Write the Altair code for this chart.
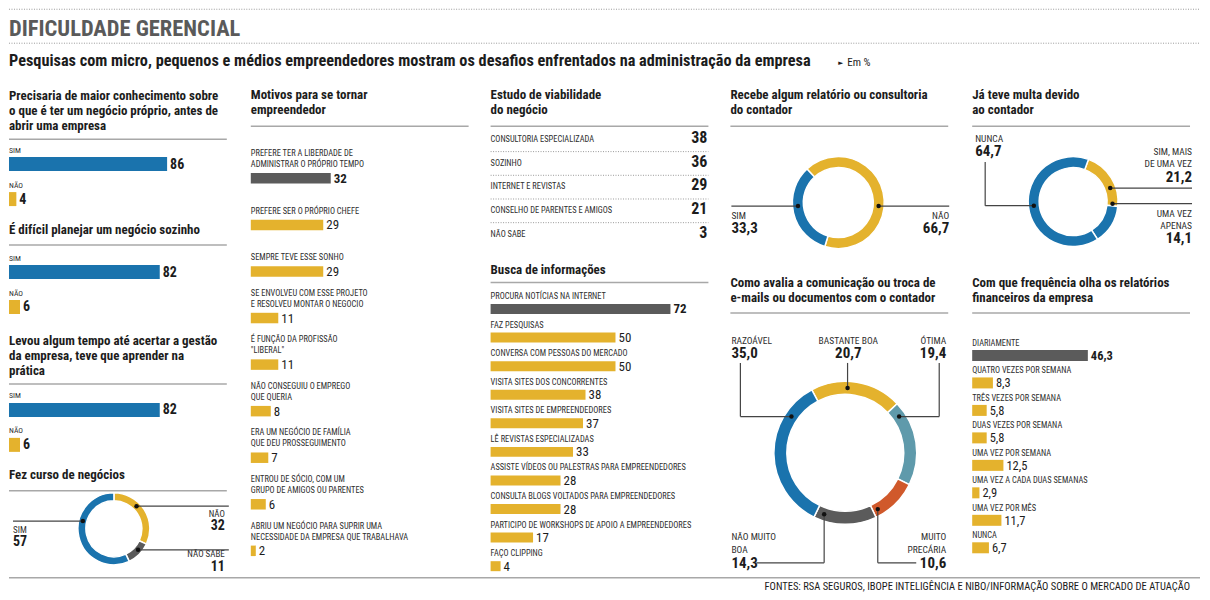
import math
import altair as alt
import pandas as pd

# ---------------- data ----------------
main_title = "DIFICULDADE GERENCIAL"
subtitle = ("Pesquisas com micro, pequenos e médios empreendedores mostram os desafios "
            "enfrentados na administração da empresa")
unit_note = "Em %"
source = "FONTES: RSA SEGUROS, IBOPE INTELIGÊNCIA E NIBO/INFORMAÇÃO SOBRE O MERCADO DE ATUAÇÃO"

yn_cats = ["SIM", "NÃO"]
q1_title = ["Precisaria de maior conhecimento sobre", "o que  é ter um negócio próprio, antes de", "abrir uma empresa"]
q1_vals = [86, 4]
q2_title = ["É difícil planejar um negócio sozinho"]
q2_vals = [82, 6]
q3_title = ["Levou algum tempo até acertar a gestão", "da empresa, teve que aprender na", "prática"]
q3_vals = [82, 6]
curso_title = ["Fez curso de negócios"]
curso_cats = ["NÃO", "NÃO SABE", "SIM"]
curso_vals = [32, 11, 57]

motivos_title = ["Motivos para se tornar", "empreendedor"]
motivos_labels = [
    ["PREFERE TER A LIBERDADE DE", "ADMINISTRAR O PRÓPRIO TEMPO"],
    ["PREFERE SER O PRÓPRIO CHEFE"],
    ["SEMPRE TEVE ESSE SONHO"],
    ["SE ENVOLVEU COM ESSE PROJETO", "E RESOLVEU MONTAR O NEGOCIO"],
    ["É FUNÇÃO DA PROFISSÃO", "\"LIBERAL\""],
    ["NÃO CONSEGUIU O EMPREGO", "QUE QUERIA"],
    ["ERA UM NEGÓCIO DE FAMÍLIA", "QUE DEU PROSSEGUIMENTO"],
    ["ENTROU DE SÓCIO, COM UM", "GRUPO DE AMIGOS OU PARENTES"],
    ["ABRIU UM NEGÓCIO PARA SUPRIR UMA", "NECESSIDADE DA EMPRESA QUE TRABALHAVA"],
]
motivos_vals = [32, 29, 29, 11, 11, 8, 7, 6, 2]

viab_title = ["Estudo de viabilidade", "do negócio"]
viab_labels = ["CONSULTORIA ESPECIALIZADA", "SOZINHO", "INTERNET E REVISTAS",
               "CONSELHO DE PARENTES E AMIGOS", "NÃO SABE"]
viab_vals = [38, 36, 29, 21, 3]

busca_title = ["Busca de informações"]
busca_labels = [["PROCURA NOTÍCIAS NA INTERNET"], ["FAZ PESQUISAS"], ["CONVERSA COM PESSOAS DO MERCADO"],
                ["VISITA SITES DOS CONCORRENTES"], ["VISITA SITES DE EMPREENDEDORES"],
                ["LÊ REVISTAS ESPECIALIZADAS"], ["ASSISTE VÍDEOS OU PALESTRAS PARA EMPREENDEDORES"],
                ["CONSULTA BLOGS VOLTADOS PARA EMPREENDEDORES"],
                ["PARTICIPO DE WORKSHOPS DE APOIO A EMPREENDEDORES"], ["FAÇO CLIPPING"]]
busca_vals = [72, 50, 50, 38, 37, 33, 28, 28, 17, 4]

relat_title = ["Recebe algum relatório ou consultoria", "do contador"]
relat_cats = ["NÃO", "SIM"]
relat_vals = [66.7, 33.3]

multa_title = ["Já teve multa devido", "ao contador"]
multa_cats = ["SIM, MAIS DE UMA VEZ", "UMA VEZ APENAS", "NUNCA"]
multa_vals = [21.2, 14.1, 64.7]

comun_title = ["Como avalia a comunicação ou troca de", "e-mails ou documentos com o contador"]
comun_cats = ["BASTANTE BOA", "ÓTIMA", "MUITO PRECÁRIA", "NÃO MUITO BOA", "RAZOÁVEL"]
comun_vals = [20.7, 19.4, 10.6, 14.3, 35.0]

freq_title = ["Com que frequência olha os relatórios", "financeiros da empresa"]
freq_labels = [["DIARIAMENTE"], ["QUATRO VEZES POR SEMANA"], ["TRÊS VEZES POR SEMANA"],
               ["DUAS VEZES POR SEMANA"], ["UMA VEZ POR SEMANA"], ["UMA VEZ A CADA DUAS SEMANAS"],
               ["UMA VEZ POR MÊS"], ["NUNCA"]]
freq_vals = [46.3, 8.3, 5.8, 5.8, 12.5, 2.9, 11.7, 6.7]

# ---------------- style ----------------
FONT = "'Liberation Sans Narrow', 'Arial Narrow', 'Roboto Condensed', 'DejaVu Sans Condensed', Roboto, sans-serif"
BLUE, YEL, GRAY, TEAL, ORNG = "#1a73ad", "#e4b22d", "#5b5b5b", "#5f9aab", "#d0592b"
INK, LAB, RULEC, LEAD = "#1c1c1c", "#2e2e2e", "#a8a8a8", "#444444"
CW = 221
LABSZ = 8.4
ONE = pd.DataFrame({"k": [0]})


def fmt_int(v):
    return str(int(v))


def fmt_dec(v):
    return f"{v:.1f}".replace(".", ",")


def txt(s, x, y, size, weight="normal", color=INK, align="left"):
    return alt.Chart(ONE).mark_text(text=s, font=FONT, fontSize=size, fontWeight=weight, color=color,
                                    align=align, baseline="alphabetic").encode(x=alt.value(x), y=alt.value(y))


def stack_text(ls, x, y0, lh, size, **kw):
    return [txt(s, x, y0 + i * lh, size, **kw) for i, s in enumerate(ls)]


def rule(x1, x2, y1, y2, color=RULEC, w=1.5, dash=None):
    kw = dict(color=color, strokeWidth=w)
    if dash:
        kw["strokeDash"] = dash
    return alt.Chart(ONE).mark_rule(**kw).encode(x=alt.value(x1), x2=alt.value(x2),
                                                 y=alt.value(y1), y2=alt.value(y2))


def polar(cx, cy, r, deg):
    a = math.radians(deg)
    return cx + r * math.sin(a), cy - r * math.cos(a)


def dot(p):
    return alt.Chart(ONE).mark_circle(size=20, color="#111111", opacity=1).encode(
        x=alt.value(p[0]), y=alt.value(p[1]))


def donut(cats, vals, colors, cx, cy, ro, ri, start):
    df = pd.DataFrame({"cat": cats, "v": vals, "o": list(range(len(cats))), "c": colors})
    a0 = math.radians(start)
    return alt.Chart(df).mark_arc(innerRadius=ri, outerRadius=ro, stroke="white", strokeWidth=1.5).encode(
        theta=alt.Theta("v:Q", stack=True,
                        scale=alt.Scale(domain=[0, 100], range=[a0, a0 + 2 * math.pi], nice=False)),
        color=alt.Color("c:N", scale=None, legend=None),
        order=alt.Order("o:Q"),
        x=alt.value(cx), y=alt.value(cy))


def title_block(lines, y0, rule_y, lh=15, size=13):
    return stack_text(lines, 0, y0, lh, size, weight="bold") + [rule(0, CW - 3, rule_y, rule_y)]


def panel(layers, h, w=CW):
    return alt.layer(*layers).properties(width=w, height=h)


def spacer(h, w=CW):
    return alt.Chart(ONE).mark_point(opacity=0).encode(x=alt.value(0), y=alt.value(0)).properties(width=w, height=h)


def bar_panel(labels, vals, colors, step, ppu, bar_h, bar_c, lab_b, val_size, bold_first=True,
              bold_all=False, lab_size=LABSZ, lab_lh=11, fmt=fmt_int):
    n = len(labels)
    df = pd.DataFrame({
        "item": [f"r{i:02d}" for i in range(n)],
        "i": list(range(n)),
        "l1": [l[0] if len(l) > 1 else "" for l in labels],
        "l2": [l[-1] for l in labels],
        "v": vals,
        "vt": [fmt(v) for v in vals],
        "c": colors,
    })
    half = step / 2
    Y = alt.Y("item:N", axis=None, sort=None, scale=alt.Scale(paddingInner=0, paddingOuter=0))
    X = alt.X("v:Q", axis=None, scale=alt.Scale(domain=[0, CW / ppu], nice=False, zero=True))
    base = alt.Chart(df)
    layers = [
        base.mark_bar(height=bar_h, yOffset=bar_c - half).encode(x=X, y=Y, color=alt.Color("c:N", scale=None)),
        base.mark_text(align="left", baseline="alphabetic", font=FONT, fontSize=lab_size, color=LAB,
                       yOffset=lab_b - half).encode(x=alt.value(0), y=Y, text="l2:N"),
        base.mark_text(align="left", baseline="alphabetic", font=FONT, fontSize=lab_size, color=LAB,
                       yOffset=lab_b - lab_lh - half).encode(x=alt.value(0), y=Y, text="l1:N"),
    ]
    vkw = dict(align="left", baseline="middle", font=FONT, fontSize=val_size, color=INK, dx=3,
               yOffset=bar_c - half + 0.5)
    if bold_all:
        layers.append(base.mark_text(fontWeight="bold", **vkw).encode(x=X, y=Y, text="vt:N"))
    else:
        layers.append(base.transform_filter(alt.datum.i == 0).mark_text(
            fontWeight="bold" if bold_first else "normal", **vkw).encode(x=X, y=Y, text="vt:N"))
        layers.append(base.transform_filter(alt.datum.i > 0).mark_text(
            fontWeight="normal", **vkw).encode(x=X, y=Y, text="vt:N"))
    return alt.layer(*layers).properties(width=CW, height=n * step)


def table_panel(labels, vals, step, lab_b):
    n = len(labels)
    df = pd.DataFrame({"item": [f"r{i:02d}" for i in range(n)], "i": list(range(n)),
                       "l": labels, "vt": [fmt_int(v) for v in vals]})
    half = step / 2
    Y = alt.Y("item:N", axis=None, sort=None, scale=alt.Scale(paddingInner=0, paddingOuter=0))
    base = alt.Chart(df)
    layers = [
        base.mark_text(align="left", baseline="alphabetic", font=FONT, fontSize=LABSZ, color=LAB,
                       yOffset=lab_b - half).encode(x=alt.value(0), y=Y, text="l:N"),
        base.mark_text(align="right", baseline="alphabetic", font=FONT, fontSize=16, fontWeight="bold",
                       color=INK, yOffset=lab_b - half + 1).encode(x=alt.value(217), y=Y, text="vt:N"),
        base.transform_filter(alt.datum.i < n - 1).mark_rule(
            color="#9a9a9a", strokeDash=[1, 1.5], strokeWidth=1, yOffset=lab_b + 9.5 - half).encode(
            x=alt.value(0), x2=alt.value(CW - 3), y=Y),
    ]
    return alt.layer(*layers).properties(width=CW, height=n * step)


def lead(pts, color=LEAD):
    out = []
    for (x1, y1), (x2, y2) in zip(pts[:-1], pts[1:]):
        out.append(rule(x1, x2, y1, y2, color=color, w=1.2))
    return out


# ---------------- column 1 ----------------
yn_labels = [[c] for c in yn_cats]
yn_cols = [BLUE, YEL]


def yn_panel(vals):
    return bar_panel(yn_labels, vals, yn_cols, step=35, ppu=1.84, bar_h=14, bar_c=24, lab_b=12.5,
                     val_size=14, bold_all=True, lab_size=7.8)


cx, cy, ro, ri = 105, 73, 36, 28
p_sim = polar(cx, cy, 32, 284)
p_nao = polar(cx, cy, 32, 45)
p_ns = polar(cx, cy, 32, 131)
curso_panel = panel(title_block(curso_title, 23, 35) + [
    donut(curso_cats, curso_vals, [YEL, GRAY, BLUE], cx, cy, ro, ri, 0),
] + lead([(4, p_sim[1]), p_sim]) + lead([p_nao, (220, p_nao[1])]) + lead([p_ns, (220, p_ns[1])]) + [
    dot(p_sim), dot(p_nao), dot(p_ns),
    txt(curso_cats[2], 4, 77, 9, color=LAB), txt(fmt_int(curso_vals[2]), 4, 90, 14, "bold"),
    txt(curso_cats[0], 216, 61, 9, color=LAB, align="right"),
    txt(fmt_int(curso_vals[0]), 216, 74, 14, "bold", align="right"),
    txt(curso_cats[1], 216, 101, 9, color=LAB, align="right"),
    txt(fmt_int(curso_vals[1]), 216, 115, 14, "bold", align="right"),
], 119)

col1 = alt.vconcat(
    panel(title_block(q1_title, 17, 56), 57), yn_panel(q1_vals),
    panel(title_block(q2_title, 24, 35), 38), yn_panel(q2_vals),
    panel(title_block(q3_title, 27, 66), 68), yn_panel(q3_vals),
    curso_panel, spacing=0, bounds="flush")

# ---------------- column 2 ----------------
col2 = alt.vconcat(
    panel(title_block(motivos_title, 16, 43, lh=14.5), 60),
    bar_panel(motivos_labels, motivos_vals, [GRAY] + [YEL] * 8, step=46.6, ppu=2.5, bar_h=10.5,
              bar_c=35.25, lab_b=24, val_size=13),
    spacer(12.6), spacing=0, bounds="flush")

# ---------------- column 3 ----------------
col3 = alt.vconcat(
    panel(title_block(viab_title, 16, 43), 45),
    table_panel(viab_labels, viab_vals, step=23.7, lab_b=14),
    panel(title_block(busca_title, 26.5, 35.5), 42.5),
    bar_panel(busca_labels, busca_vals, [GRAY] + [YEL] * 9, step=28.6, ppu=2.5, bar_h=10, bar_c=19,
              lab_b=9, val_size=13),
    spacing=0, bounds="flush")

# ---------------- column 4 ----------------
cx, cy, ro, ri = 108, 119.5, 46, 35
r_sim = polar(cx, cy, 40.5, 265)
r_nao = polar(cx, cy, 40.5, 95)
relat_panel = panel(title_block(relat_title, 16, 43) + [
    donut(relat_cats, relat_vals, [YEL, BLUE], cx, cy, ro, ri, 317),
] + lead([(1, r_sim[1]), r_sim]) + lead([r_nao, (219, r_nao[1])]) + [
    dot(r_sim), dot(r_nao),
    txt(relat_cats[1], 1, 136, 9.5, color=LAB), txt(fmt_dec(relat_vals[1]), 1, 150, 15, "bold"),
    txt(relat_cats[0], 219, 136, 9.5, color=LAB, align="right"),
    txt(fmt_dec(relat_vals[0]), 219, 150, 15, "bold", align="right"),
], 192)

cx, cy, ro, ri = 115, 178, 71.5, 58.5
rm = 65
c_raz = polar(cx, cy, rm, 304)
c_bas = polar(cx, cy, rm, 2)
c_oti = polar(cx, cy, rm, 56)
c_nmb = polar(cx, cy, rm, 199)
c_mp = polar(cx, cy, rm, 150)
comun_panel = panel(title_block(comun_title, 12, 38) + [
    donut(comun_cats, comun_vals, [YEL, TEAL, ORNG, GRAY, BLUE], cx, cy, ro, ri, 332),
] + lead([(10, 88), (10, c_raz[1]), c_raz]) + lead([(c_bas[0], 88), c_bas])
  + lead([(209, 88), (209, c_oti[1]), c_oti]) + lead([c_nmb, (c_nmb[0], 288), (26, 288)])
  + lead([c_mp, (c_mp[0], 288), (186, 288)]) + [
    dot(c_raz), dot(c_bas), dot(c_oti), dot(c_nmb), dot(c_mp),
    txt("RAZOÁVEL", 1, 69, 9.5, color=LAB), txt(fmt_dec(comun_vals[4]), 1, 83, 15, "bold"),
    txt("BASTANTE BOA", 118, 69, 9.5, color=LAB, align="center"),
    txt(fmt_dec(comun_vals[0]), 118, 83, 15, "bold", align="center"),
    txt("ÓTIMA", 216, 69, 9.5, color=LAB, align="right"),
    txt(fmt_dec(comun_vals[1]), 216, 83, 15, "bold", align="right"),
    txt("NÃO MUITO", 1, 265, 9.5, color=LAB), txt("BOA", 1, 278, 9.5, color=LAB),
    txt(fmt_dec(comun_vals[3]), 1, 293, 15, "bold"),
    txt("MUITO", 216, 265, 9.5, color=LAB, align="right"),
    txt("PRECÁRIA", 216, 278, 9.5, color=LAB, align="right"),
    txt(fmt_dec(comun_vals[2]), 216, 293, 15, "bold", align="right"),
], 300)

col4 = alt.vconcat(relat_panel, comun_panel, spacing=0, bounds="flush")

# ---------------- column 5 ----------------
cx, cy, ro, ri = 101, 118.5, 45, 34
m_nun = polar(cx, cy, 39.5, 264)
m_sim = polar(cx, cy, 39.5, 70)
m_uma = polar(cx, cy, 39.5, 93)
multa_panel = panel(title_block(multa_title, 16, 43) + [
    donut(multa_cats, multa_vals, [YEL, BLUE, BLUE], cx, cy, ro, ri, 20),
] + lead([(13, 79), (13, m_nun[1]), m_nun]) + lead([m_sim, (220, m_sim[1])])
  + lead([m_uma, (220, m_uma[1])]) + [
    dot(m_nun), dot(m_sim), dot(m_uma),
    txt("NUNCA", 3, 59, 9.5, color=LAB), txt(fmt_dec(multa_vals[2]), 3, 73, 15, "bold"),
    txt("SIM, MAIS", 220, 72, 9.5, color=LAB, align="right"),
    txt("DE UMA VEZ", 220, 84, 9.5, color=LAB, align="right"),
    txt(fmt_dec(multa_vals[0]), 220, 99, 15, "bold", align="right"),
    txt("UMA VEZ", 220, 134, 9.5, color=LAB, align="right"),
    txt("APENAS", 220, 146, 9.5, color=LAB, align="right"),
    txt(fmt_dec(multa_vals[1]), 220, 160, 15, "bold", align="right"),
], 192)

col5 = alt.vconcat(
    multa_panel,
    panel(title_block(freq_title, 12, 38), 62),
    bar_panel(freq_labels, freq_vals, [GRAY] + [YEL] * 7, step=27.5, ppu=2.5, bar_h=11, bar_c=18.5,
              lab_b=9, val_size=12.5, fmt=fmt_dec),
    spacer(18), spacing=0, bounds="flush")

# ---------------- header / footer ----------------
W = 1194
header = panel([
    rule(0, W - 2, 1, 1, color="#9a9a9a", w=1, dash=[1, 1.5]),
    txt(main_title, 0, 28, 22.5, "bold", color="#5a5a5a"),
    rule(0, W - 2, 35, 35, color="#9a9a9a", w=1, dash=[1, 1.5]),
    txt(subtitle, 0, 58, 16.3, "bold"),
    txt("►", 830, 57, 7),
    txt(unit_note, 839, 58, 11),
], 75, w=W)

footer = panel([
    rule(0, W - 2, 2, 2, color="#a8a8a8", w=1.5),
    txt(source, 1182, 14.5, 10.5, align="right"),
], 17, w=W)

cols = alt.hconcat(col1, col2, col3, col4, col5, spacing=18)
chart = alt.vconcat(header, cols, footer, spacing=0).properties(
    padding=0, background="white").configure_view(stroke=None)

chart.save("out.html", embed_options={"renderer": "svg", "actions": False})
